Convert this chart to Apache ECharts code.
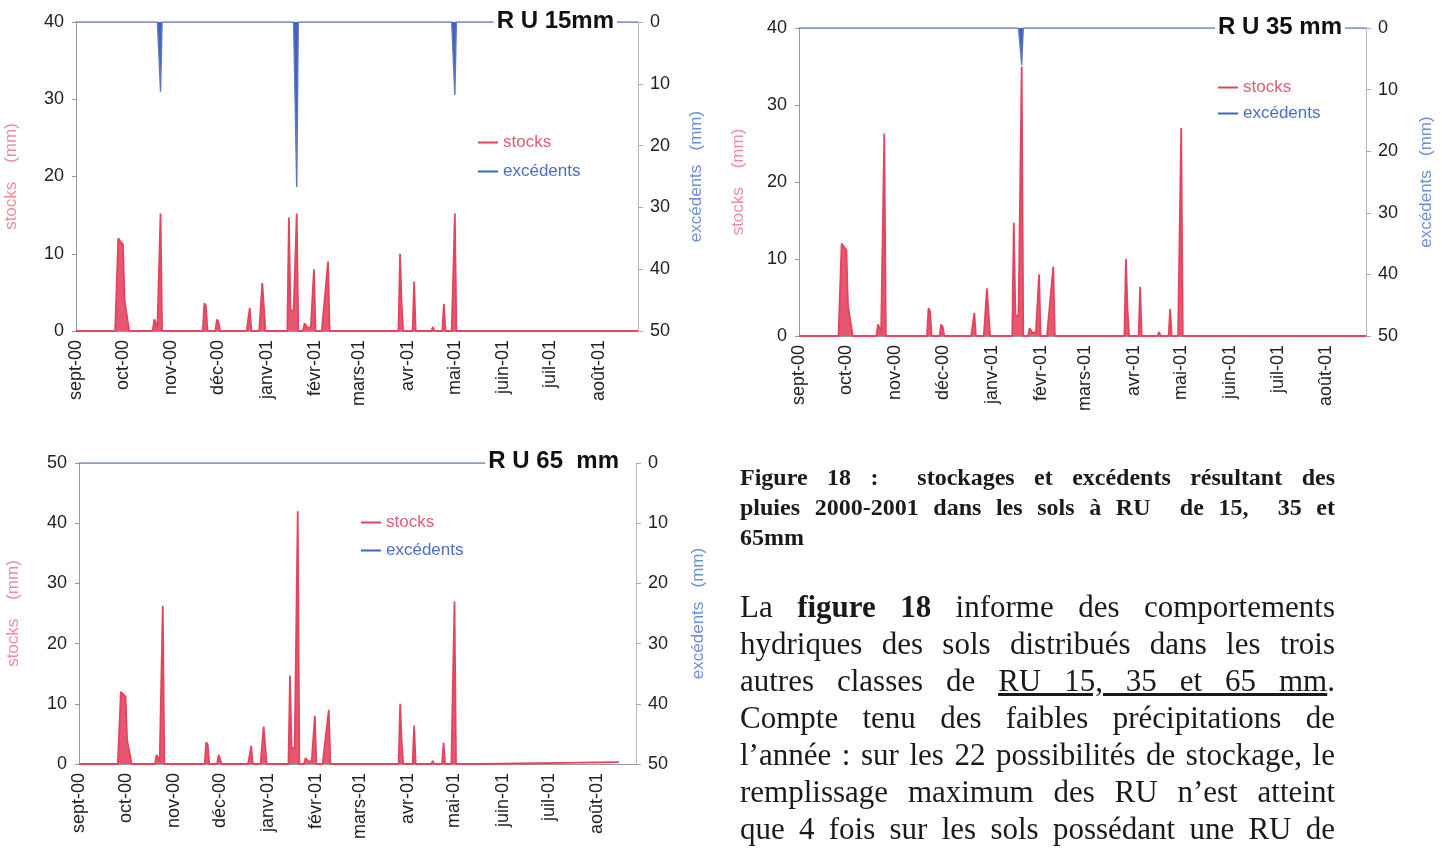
<!DOCTYPE html>
<html>
<head>
<meta charset="utf-8">
<title>Figure 18 - stockages et excédents</title>
<script src="https://cdn.jsdelivr.net/npm/echarts@6/dist/echarts.min.js"></script>
<style>
  body { margin: 0; background: #fff; }
  #page { position: relative; width: 1442px; height: 849px; overflow: hidden; background: #fff; }
  #myChart { position: absolute; left: 0; top: 0; width: 1442px; height: 849px; }
  .txt { position: absolute; left: 740px; width: 595px; color: #1a1a1a;
         font-family: 'Liberation Serif', 'DejaVu Serif', serif; }
  .txt div { text-align: justify; text-align-last: justify; }
  .cap { top: 462px; font-size: 24px; line-height: 30px; font-weight: bold; }
  .cap div.last { text-align-last: left; }
  .para { top: 588px; font-size: 31px; line-height: 37px; }
</style>
</head>
<body>
<div id="page">
  <div id="myChart"></div>
  <div class="txt cap">
    <div>Figure 18 :&nbsp; stockages et excédents résultant des</div>
    <div>pluies 2000-2001 dans les sols à RU&nbsp; de 15,&nbsp; 35 et</div>
    <div class="last">65mm</div>
  </div>
  <div class="txt para">
    <div>La <b>figure 18</b> informe des comportements</div>
    <div>hydriques des sols distribués dans les trois</div>
    <div>autres classes de <u>RU 15, 35 et 65 mm</u>.</div>
    <div>Compte tenu des faibles précipitations de</div>
    <div>l’année : sur les 22 possibilités de stockage, le</div>
    <div>remplissage maximum des RU n’est atteint</div>
    <div>que 4 fois sur les sols possédant une RU de</div>
  </div>
</div>

<script>
// axe des dates : 1er sept 2000 -> fin août 2001
var X_START = '2000-09-01'
var X_END = '2001-08-26'

var monthStarts = ['2000-09-01', '2000-10-01', '2000-11-01', '2000-12-01', '2001-01-01', '2001-02-01',
  '2001-03-01', '2001-04-01', '2001-05-01', '2001-06-01', '2001-07-01', '2001-08-01']
var monthLabels = ['sept-00', 'oct-00', 'nov-00', 'déc-00', 'janv-01', 'févr-01',
  'mars-01', 'avr-01', 'mai-01', 'juin-01', 'juil-01', 'août-01']

// stocks (mm), RU 15mm
var stocks15 = [
  ['2000-09-01', 0],
  ['2000-09-26', 0], ['2000-09-28', 12], ['2000-09-29', 11.7], ['2000-10-01', 11.2], ['2000-10-02', 4], ['2000-10-03', 3.8], ['2000-10-05', 0],
  ['2000-10-20', 0], ['2000-10-21', 1.5], ['2000-10-23', 0.5], ['2000-10-25', 15.2], ['2000-10-26', 0],
  ['2000-11-21', 0], ['2000-11-22', 3.6], ['2000-11-23', 3.2], ['2000-11-24', 0],
  ['2000-11-29', 0], ['2000-11-30', 1.5], ['2000-12-01', 1.2], ['2000-12-02', 0],
  ['2000-12-19', 0], ['2000-12-21', 3], ['2000-12-22', 0],
  ['2000-12-27', 0], ['2000-12-29', 6.2], ['2000-12-31', 0],
  ['2001-01-14', 0], ['2001-01-15', 14.7], ['2001-01-16', 2.8], ['2001-01-18', 2.5], ['2001-01-20', 15.2], ['2001-01-21', 0],
  ['2001-01-24', 0], ['2001-01-25', 1], ['2001-01-26', 1], ['2001-01-27', 0.4], ['2001-01-29', 0.5], ['2001-01-31', 8], ['2001-02-01', 0],
  ['2001-02-05', 0], ['2001-02-07', 4.5], ['2001-02-09', 9], ['2001-02-10', 0],
  ['2001-03-26', 0], ['2001-03-27', 10], ['2001-03-28', 3.5], ['2001-03-29', 0],
  ['2001-04-04', 0], ['2001-04-05', 6.4], ['2001-04-06', 0],
  ['2001-04-16', 0], ['2001-04-17', 0.5], ['2001-04-18', 0],
  ['2001-04-23', 0], ['2001-04-24', 3.5], ['2001-04-25', 0],
  ['2001-04-29', 0], ['2001-05-01', 15.2], ['2001-05-02', 0],
  ['2001-08-26', 0]
]
// excédents (mm), RU 15mm
var excedents15 = [
  ['2000-09-01', 0],
  ['2000-10-23', 0], ['2000-10-25', 11.3], ['2000-10-26', 0],
  ['2001-01-18', 0], ['2001-01-20', 26.7], ['2001-01-21', 0],
  ['2001-04-29', 0], ['2001-05-01', 11.8], ['2001-05-02', 0],
  ['2001-08-26', 0]
]

// RU 35 mm
var stocks35 = [
  ['2000-09-01', 0],
  ['2000-09-26', 0], ['2000-09-28', 12], ['2000-09-29', 11.7], ['2000-10-01', 11.2], ['2000-10-02', 4], ['2000-10-03', 3.8], ['2000-10-05', 0],
  ['2000-10-20', 0], ['2000-10-21', 1.5], ['2000-10-23', 0.5], ['2000-10-25', 26.3], ['2000-10-26', 0],
  ['2000-11-21', 0], ['2000-11-22', 3.6], ['2000-11-23', 3.2], ['2000-11-24', 0],
  ['2000-11-29', 0], ['2000-11-30', 1.5], ['2000-12-01', 1.2], ['2000-12-02', 0],
  ['2000-12-19', 0], ['2000-12-21', 3], ['2000-12-22', 0],
  ['2000-12-27', 0], ['2000-12-29', 6.2], ['2000-12-31', 0],
  ['2001-01-14', 0], ['2001-01-15', 14.7], ['2001-01-16', 2.8], ['2001-01-18', 2.5], ['2001-01-20', 35], ['2001-01-21', 0],
  ['2001-01-24', 0], ['2001-01-25', 1], ['2001-01-26', 1], ['2001-01-27', 0.4], ['2001-01-29', 0.5], ['2001-01-31', 8], ['2001-02-01', 0],
  ['2001-02-05', 0], ['2001-02-07', 4.5], ['2001-02-09', 9], ['2001-02-10', 0],
  ['2001-03-26', 0], ['2001-03-27', 10], ['2001-03-28', 3.5], ['2001-03-29', 0],
  ['2001-04-04', 0], ['2001-04-05', 6.4], ['2001-04-06', 0],
  ['2001-04-16', 0], ['2001-04-17', 0.5], ['2001-04-18', 0],
  ['2001-04-23', 0], ['2001-04-24', 3.5], ['2001-04-25', 0],
  ['2001-04-29', 0], ['2001-05-01', 27], ['2001-05-02', 0],
  ['2001-08-26', 0]
]
var excedents35 = [
  ['2000-09-01', 0],
  ['2001-01-18', 0], ['2001-01-20', 6], ['2001-01-21', 0],
  ['2001-08-26', 0]
]

// RU 65 mm
var stocks65 = [
  ['2000-09-01', 0],
  ['2000-09-26', 0], ['2000-09-28', 12], ['2000-09-29', 11.7], ['2000-10-01', 11.2], ['2000-10-02', 4], ['2000-10-03', 3.8], ['2000-10-05', 0],
  ['2000-10-20', 0], ['2000-10-21', 1.5], ['2000-10-23', 0.5], ['2000-10-25', 26.3], ['2000-10-26', 0],
  ['2000-11-21', 0], ['2000-11-22', 3.6], ['2000-11-23', 3.2], ['2000-11-24', 0],
  ['2000-11-29', 0], ['2000-11-30', 1.5], ['2000-12-01', 1.2], ['2000-12-02', 0],
  ['2000-12-19', 0], ['2000-12-21', 3], ['2000-12-22', 0],
  ['2000-12-27', 0], ['2000-12-29', 6.2], ['2000-12-31', 0],
  ['2001-01-14', 0], ['2001-01-15', 14.7], ['2001-01-16', 2.8], ['2001-01-18', 2.5], ['2001-01-20', 42], ['2001-01-21', 0],
  ['2001-01-24', 0], ['2001-01-25', 1], ['2001-01-26', 1], ['2001-01-27', 0.4], ['2001-01-29', 0.5], ['2001-01-31', 8], ['2001-02-01', 0],
  ['2001-02-05', 0], ['2001-02-07', 4.5], ['2001-02-09', 9], ['2001-02-10', 0],
  ['2001-03-26', 0], ['2001-03-27', 10], ['2001-03-28', 3.5], ['2001-03-29', 0],
  ['2001-04-04', 0], ['2001-04-05', 6.4], ['2001-04-06', 0],
  ['2001-04-16', 0], ['2001-04-17', 0.5], ['2001-04-18', 0],
  ['2001-04-23', 0], ['2001-04-24', 3.5], ['2001-04-25', 0],
  ['2001-04-29', 0], ['2001-05-01', 27], ['2001-05-02', 0],
  ['2001-05-16', 0], ['2001-05-17', 0.3], ['2001-08-15', 0.3]
]
var excedents65 = [
  ['2000-09-01', 0],
  ['2001-08-15', 0]
]

var pink = '#e3455f'
var blue = '#3b63c2'

function day (s) {
  return Math.round((Date.parse(s) - Date.parse(X_START)) / 86400000)
}
function toXY (list) {
  return list.map(function (p) { return [day(p[0]), p[1]] })
}

var monthDays = monthStarts.map(day)

var panels = [
  { title: 'R U 15mm', stocks: stocks15, exc: excedents15, yMax: 40,
    grid: { left: 76, top: 22, width: 562, height: 309 },
    titlePos: { right: 825, top: 8 }, legendPos: { left: 473, top: 129 }, legendGap: 12,
    nameGap: [56, 50] },
  { title: 'R U 35 mm', stocks: stocks35, exc: excedents35, yMax: 40,
    grid: { left: 799, top: 28, width: 567, height: 308 },
    titlePos: { right: 97, top: 14 }, legendPos: { left: 1213, top: 74 }, legendGap: 9,
    nameGap: [52, 52] },
  { title: 'R U 65  mm', stocks: stocks65, exc: excedents65, yMax: 50,
    grid: { left: 79, top: 463, width: 557, height: 301 },
    titlePos: { right: 820, top: 448 }, legendPos: { left: 356, top: 509 }, legendGap: 11,
    nameGap: [57, 54] }
]

let option = {
  backgroundColor: '#fff',
  textStyle: { fontFamily: 'Liberation Sans, Arial, sans-serif' },
  animation: false,
  title: [],
  legend: [],
  grid: [],
  xAxis: [],
  yAxis: [],
  series: []
}

panels.forEach(function (p, i) {
  option.grid.push(p.grid)

  option.title.push({
    text: p.title,
    right: p.titlePos.right,
    top: p.titlePos.top,
    padding: [1, 3],
    backgroundColor: '#fff',
    z: 10,
    textStyle: { fontSize: 24, fontWeight: 'bold', color: '#111' }
  })

  option.legend.push({
    orient: 'vertical',
    left: p.legendPos.left,
    top: p.legendPos.top,
    itemGap: p.legendGap,
    itemWidth: 20,
    itemHeight: 2,
    icon: 'rect',
    selectedMode: false,
    textStyle: { fontSize: 17 },
    data: [
      { name: 'stocks', textStyle: { color: '#e05d74' } },
      { name: 'excédents', textStyle: { color: '#4a6fc4' } }
    ]
  })

  option.xAxis.push({
    type: 'value',
    gridIndex: i,
    min: 0,
    max: day(X_END),
    axisLine: { show: true, onZero: false, lineStyle: { color: '#999' } },
    axisTick: { show: false },
    splitLine: { show: false },
    axisLabel: {
      customValues: monthDays,
      rotate: 90,
      margin: 9,
      fontSize: 18,
      color: '#222',
      formatter: function (v) {
        return monthLabels[monthDays.indexOf(v)] || ''
      }
    }
  })

  // axe gauche : stocks
  option.yAxis.push({
    type: 'value',
    gridIndex: i,
    position: 'left',
    min: 0,
    max: p.yMax,
    interval: 10,
    name: 'stocks    (mm)',
    nameLocation: 'middle',
    nameRotate: 90,
    nameGap: p.nameGap[0],
    nameTextStyle: { color: '#ee8c9d', fontSize: 17 },
    axisLine: { show: true, lineStyle: { color: '#999' } },
    axisTick: { show: true, length: 4, lineStyle: { color: '#999' } },
    splitLine: { show: false },
    axisLabel: { fontSize: 18, color: '#222', margin: 12 }
  })

  // axe droit : excédents, inversé
  option.yAxis.push({
    type: 'value',
    gridIndex: i,
    position: 'right',
    inverse: true,
    min: 0,
    max: 50,
    interval: 10,
    name: 'excédents   (mm)',
    nameLocation: 'middle',
    nameRotate: 90,
    nameGap: p.nameGap[1],
    nameTextStyle: { color: '#6a8edb', fontSize: 17 },
    axisLine: { show: true, lineStyle: { color: '#bbb' } },
    axisTick: { show: true, length: 5, lineStyle: { color: '#aaa' } },
    splitLine: { show: false },
    axisLabel: { fontSize: 18, color: '#222', margin: 12 }
  })

  option.series.push({
    name: 'excédents',
    type: 'line',
    xAxisIndex: i,
    yAxisIndex: i * 2 + 1,
    symbol: 'none',
    z: 2,
    itemStyle: { color: blue },
    lineStyle: { color: '#6278bd', width: 1.4 },
    areaStyle: { color: blue, opacity: 1 },
    data: toXY(p.exc)
  }, {
    name: 'stocks',
    type: 'line',
    xAxisIndex: i,
    yAxisIndex: i * 2,
    symbol: 'none',
    z: 3,
    itemStyle: { color: pink },
    lineStyle: { color: pink, width: 1.8 },
    areaStyle: { color: '#e8566f', opacity: 1 },
    data: toXY(p.stocks)
  })
})

let myChart = echarts.init(document.getElementById('myChart'))
myChart.setOption(option)
</script>
</body>
</html>
